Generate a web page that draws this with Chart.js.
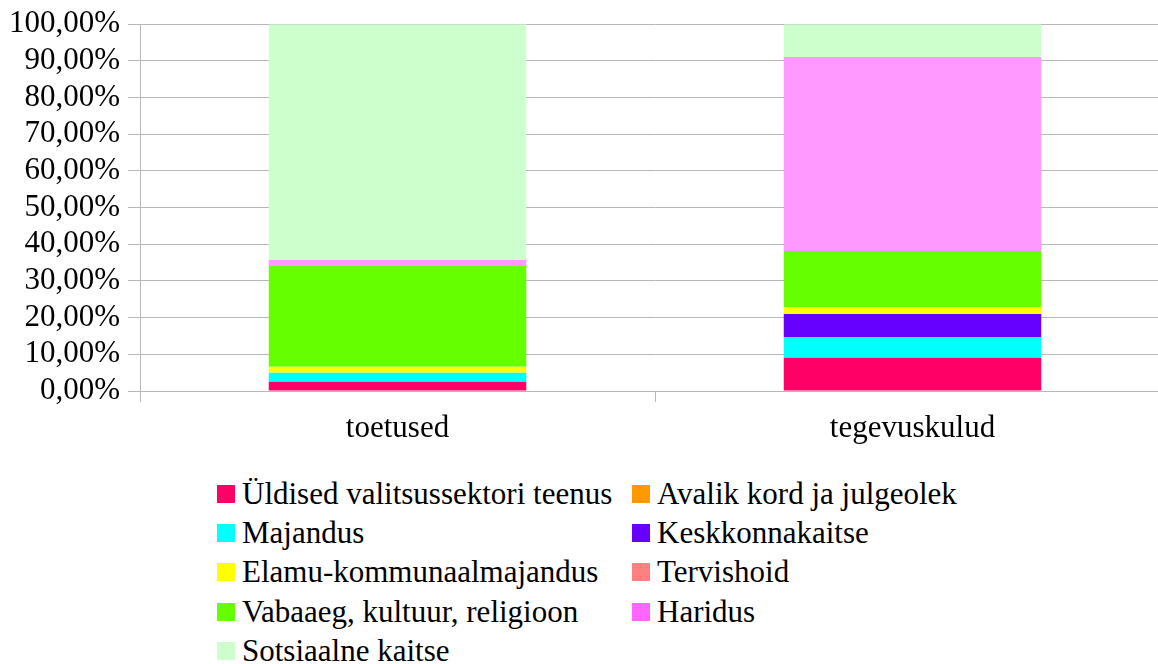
<!DOCTYPE html>
<html><head><meta charset="utf-8">
<script src="https://cdn.jsdelivr.net/npm/chart.js@4/dist/chart.umd.min.js"></script>
<style>
html,body{margin:0;padding:0;background:#fff;overflow:hidden;width:1158px;height:664px}
#wrap{position:absolute;left:0;top:0;width:1180px;height:470px}
#legend{position:absolute;left:217px;top:474px;display:grid;grid-template-columns:415px auto;grid-auto-rows:39.3px;font-family:"Liberation Serif","Times New Roman",Times,serif;font-size:31px;color:#000}
.item{display:flex;align-items:center;white-space:nowrap}
.box{width:18px;height:18px;margin-right:7px;flex:none}
</style></head>
<body>
<div id="wrap"><canvas id="c"></canvas></div>
<div id="legend"></div>
<script>
const categories = ["toetused", "tegevuskulud"];
const seriesNames = [
  "Üldised valitsussektori teenus",
  "Avalik kord ja julgeolek",
  "Majandus",
  "Keskkonnakaitse",
  "Elamu-kommunaalmajandus",
  "Tervishoid",
  "Vabaaeg, kultuur, religioon",
  "Haridus",
  "Sotsiaalne kaitse"
];
const yldised = [2.53, 9.09];
const avalikKord = [0, 0];
const majandus = [2.45, 5.64];
const keskkonnakaitse = [0, 6.27];
const elamu = [1.63, 1.90];
const tervishoid = [0, 0];
const vabaaeg = [27.50, 15.30];
const haridus = [1.63, 52.90];
const sotsiaalne = [64.26, 8.90];
const yTicks = [0, 10, 20, 30, 40, 50, 60, 70, 80, 90, 100];

const seriesValues = [yldised, avalikKord, majandus, keskkonnakaitse, elamu, tervishoid, vabaaeg, haridus, sotsiaalne];
const barColors = ["#ff0066", "#ff9900", "#00ffff", "#6600ff", "#ffff00", "#ff8080", "#66ff00", "#ff99ff", "#ccffcc"];
const legendColors = ["#ff0066", "#ff9900", "#00ffff", "#6600ff", "#ffff00", "#ff8080", "#66ff00", "#ff66ff", "#ccffcc"];

const gridColor = "#b8b8b8";
const fontFamily = "'Liberation Serif', 'Times New Roman', Times, serif";

const datasets = seriesNames.map((name, i) => ({
  label: name,
  data: seriesValues[i],
  backgroundColor: barColors[i],
  borderWidth: 0,
  categoryPercentage: 1.0,
  barPercentage: 0.5
}));

new Chart(document.getElementById("c"), {
  type: "bar",
  data: {labels: categories, datasets},
  options: {
    responsive: true,
    maintainAspectRatio: false,
    animation: false,
    layout: {padding: {top: 0, right: 10, left: 0, bottom: 0}},
    plugins: {legend: {display: false}, tooltip: {enabled: false}},
    scales: {
      x: {
        stacked: true,
        offset: true,
        grid: {display: true, drawOnChartArea: false, drawTicks: true, tickLength: 11, offset: true, color: gridColor, lineWidth: 1},
        border: {display: true, color: gridColor, width: 1},
        ticks: {color: "#000", font: {family: fontFamily, size: 31}, padding: 8, maxRotation: 0},
        afterFit: s => { s.height = 79; }
      },
      y: {
        stacked: true,
        min: 0,
        max: 100,
        afterBuildTicks: s => { s.ticks = yTicks.map(v => ({value: v})); },
        grid: {color: gridColor, lineWidth: 1, tickLength: 12},
        border: {display: true, color: gridColor, width: 1},
        ticks: {color: "#000", font: {family: fontFamily, size: 31, lineHeight: 1.05}, padding: 8, autoSkip: false,
          callback: v => v.toFixed(2).replace(".", ",") + "%"},
        afterFit: s => { s.width = 140; }
      }
    }
  }
});

const leg = document.getElementById("legend");
seriesNames.forEach((name, i) => {
  const it = document.createElement("div");
  it.className = "item";
  const b = document.createElement("span");
  b.className = "box";
  b.style.background = legendColors[i];
  const t = document.createElement("span");
  t.textContent = name;
  it.appendChild(b); it.appendChild(t);
  leg.appendChild(it);
});
</script>
</body></html>
